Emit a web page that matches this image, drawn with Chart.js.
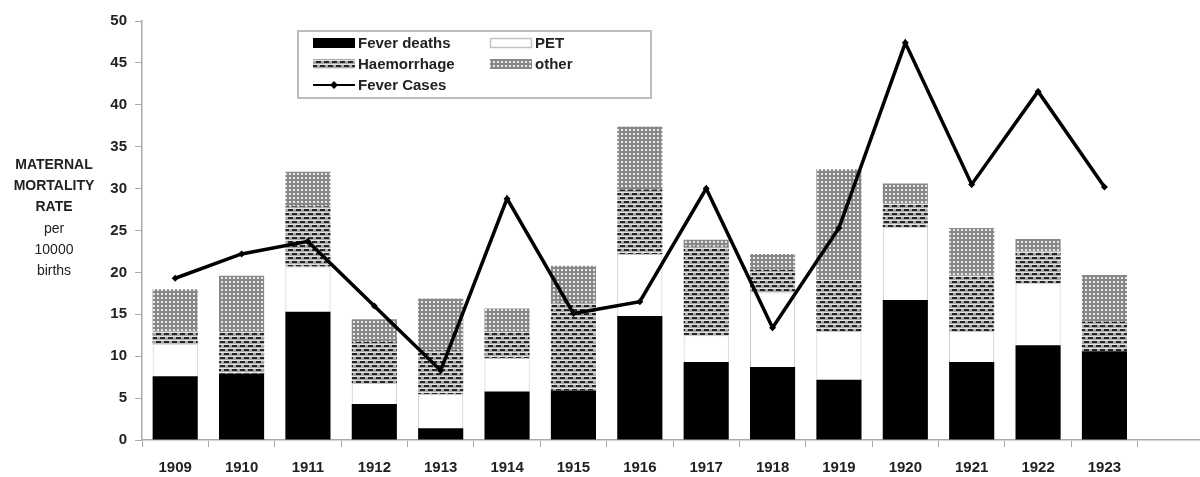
<!DOCTYPE html>
<html>
<head>
<meta charset="utf-8">
<script src="https://cdn.jsdelivr.net/npm/chart.js@4.4.1/dist/chart.umd.min.js"></script>
<style>
  html, body { margin: 0; padding: 0; background: #fff; overflow: hidden; }
  canvas { display: block; }
</style>
</head>
<body>
<canvas id="c" width="1208" height="477" style="width:1208px;height:477px"></canvas>
<script>
// ---- data ----
const years = ['1909','1910','1911','1912','1913','1914','1915','1916','1917','1918','1919','1920','1921','1922','1923',''];
const feverDeaths = [7.6, 7.9, 15.3, 4.3, 1.4, 5.8, 5.9, 14.8, 9.3, 8.7, 7.2, 16.7, 9.3, 11.3, 10.6];
const pet         = [3.9, 0,   5.4,  2.5, 4.1, 4.0, 0,   7.4,  3.2, 8.9, 5.8, 8.7,  3.7, 7.4,  0];
const haemorrhage = [1.5, 5.0, 7.2,  4.9, 5.2, 3.1, 10.5, 7.7, 10.6, 2.7, 6.1, 2.8,  6.6, 3.8,  3.5];
const other       = [5.0, 6.7, 4.1,  2.7, 6.2, 2.8, 4.4, 7.5,  0.8, 1.9, 13.2, 2.4, 5.7, 1.5,  5.6];
const feverCases  = [19.3, 22.2, 23.7, 16.0, 8.3, 28.8, 15.1, 16.5, 30.0, 13.4, 25.3, 47.4, 30.5, 41.6, 30.2];
const yTicks = [0,5,10,15,20,25,30,35,40,45,50];
const yTitle = [['MATERNAL', true], ['MORTALITY', true], ['RATE', true], ['per', false], ['10000', false], ['births', false]];

const FONT = "'Liberation Sans', Arial, sans-serif";
const canvas = document.getElementById('c');
const ctx0 = canvas.getContext('2d');

function makePattern(w, h, draw) {
  const t = document.createElement('canvas');
  t.width = w; t.height = h;
  const c = t.getContext('2d');
  draw(c);
  return ctx0.createPattern(t, 'repeat');
}
const haemPattern = makePattern(8, 8, c => {
  c.fillStyle = '#a9a9a9'; c.fillRect(0, 0, 8, 8);
  c.fillStyle = '#e4e4e4';
  c.fillRect(0, 0, 8, 1); c.fillRect(0, 4, 8, 1);
  c.fillStyle = '#262626';
  c.fillRect(0, 1, 5, 2);
  c.fillRect(4, 5, 4, 2); c.fillRect(0, 5, 1, 2);
});
const otherPattern = makePattern(4, 4, c => {
  c.fillStyle = '#888'; c.fillRect(0, 0, 4, 4);
  c.fillStyle = '#e8e8e8'; c.fillRect(1, 1, 2, 2);
});

const legendPos = [
  { x: 313, y: 43, tx: 358 },   // Fever deaths
  { x: 490, y: 43, tx: 535 },   // PET
  { x: 313, y: 64, tx: 358 },   // Haemorrhage
  { x: 490, y: 64, tx: 535 },   // other
  { x: 313, y: 85, tx: 358 }    // Fever Cases
];

const overlay = {
  id: 'overlay',
  afterDraw(chart) {
    const c = chart.ctx;
    c.save();
    c.fillStyle = '#222';
    c.textAlign = 'center';
    c.textBaseline = 'middle';
    yTitle.forEach((ln, i) => {
      c.font = (ln[1] ? 'bold ' : '') + '14px ' + FONT;
      c.fillText(ln[0], 54, 165 + i * 21.3);
    });
    c.fillStyle = '#fff';
    c.fillRect(298, 31, 353, 67);
    c.strokeStyle = '#bdbdbd';
    c.lineWidth = 2;
    c.strokeRect(298, 31, 353, 67);
    c.textAlign = 'left';
    c.font = 'bold 15px ' + FONT;
    chart.data.datasets.forEach((ds, i) => {
      const p = legendPos[i];
      if (ds.type === 'line') {
        c.strokeStyle = '#000'; c.lineWidth = 2;
        c.beginPath(); c.moveTo(p.x, p.y); c.lineTo(p.x + 42, p.y); c.stroke();
        c.fillStyle = '#000';
        c.beginPath();
        c.moveTo(p.x + 21, p.y - 4); c.lineTo(p.x + 25, p.y); c.lineTo(p.x + 21, p.y + 4); c.lineTo(p.x + 17, p.y);
        c.closePath(); c.fill();
      } else {
        c.fillStyle = ds.backgroundColor;
        c.fillRect(p.x, p.y - 5, 42, 10);
        if (ds.borderWidth) {
          c.strokeStyle = ds.borderColor; c.lineWidth = 1.5;
          c.strokeRect(p.x + 0.5, p.y - 4.5, 41, 9);
        }
      }
      c.fillStyle = '#222';
      c.fillText(ds.label, p.tx, p.y + 1);
    });
    c.restore();
  }
};

new Chart(canvas, {
  type: 'bar',
  data: {
    labels: years,
    datasets: [
      { label: 'Fever deaths', data: feverDeaths, backgroundColor: '#000', borderWidth: 0, order: 1, stack: 's' },
      { label: 'PET', data: pet, backgroundColor: '#fff', borderColor: '#c4c4c4', borderWidth: 1, order: 1, stack: 's' },
      { label: 'Haemorrhage', data: haemorrhage, backgroundColor: haemPattern, borderWidth: 0, order: 1, stack: 's' },
      { label: 'other', data: other, backgroundColor: otherPattern, borderWidth: 0, order: 1, stack: 's' },
      { type: 'line', label: 'Fever Cases', data: feverCases, borderColor: '#000', backgroundColor: '#000',
        borderWidth: 3.5, tension: 0, pointStyle: 'rectRot', pointRadius: 3.5, pointBorderWidth: 0, order: 0 }
    ]
  },
  options: {
    responsive: false,
    animation: false,
    devicePixelRatio: 1,
    layout: { padding: { left: 0, right: 0, top: 21, bottom: 0 } },
    plugins: { legend: { display: false }, tooltip: { enabled: false } },
    datasets: { bar: { categoryPercentage: 1, barPercentage: 0.68 } },
    scales: {
      x: {
        stacked: true,
        grid: { display: true, drawOnChartArea: false, offset: true, tickLength: 7, color: '#aaa', tickColor: '#aaa' },
        border: { color: '#aaa', width: 1.5 },
        ticks: { color: '#222', font: { family: FONT, size: 15, weight: 'bold' }, padding: 12, maxRotation: 0, autoSkip: false },
        afterFit(s) { s.height = 37; }
      },
      y: {
        stacked: true,
        min: 0, max: 50,
        afterBuildTicks(s) { s.ticks = yTicks.map(v => ({ value: v })); },
        grid: { display: true, drawOnChartArea: false, tickLength: 7, color: '#aaa', tickColor: '#aaa' },
        border: { color: '#aaa', width: 1.5 },
        ticks: { color: '#222', font: { family: FONT, size: 15, weight: 'bold' }, padding: 8 },
        afterFit(s) { s.width = 142; }
      }
    }
  },
  plugins: [overlay]
});
</script>
</body>
</html>
